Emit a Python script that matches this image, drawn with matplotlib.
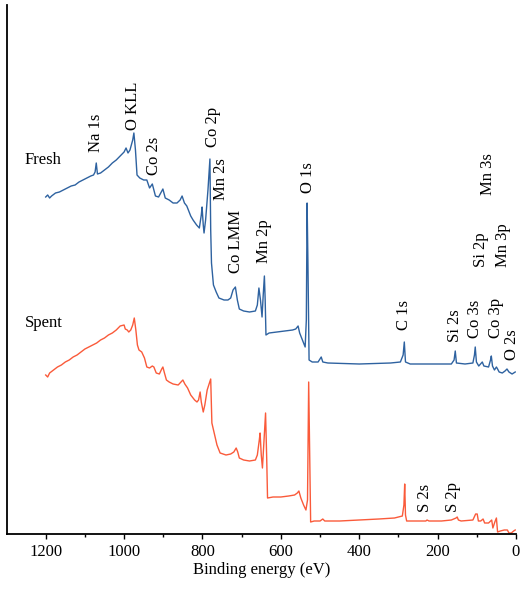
import matplotlib
matplotlib.use('Agg')
import matplotlib.pyplot as plt
import numpy as np

plt.rcParams['font.family'] = ['Liberation Serif', 'DejaVu Serif']
plt.rcParams['font.size'] = 12

# Fresh survey: binding energy (eV) and intensity (a.u.)
fresh_be = [1200, 1195, 1190, 1185, 1175, 1165, 1155, 1145, 1135, 1125, 1115, 1105,
            1095, 1085, 1078, 1074, 1071, 1068, 1060, 1050, 1040, 1030, 1020, 1010,
            1000, 995, 990, 985, 978, 975, 971, 967, 960, 950, 942, 935, 928, 920,
            912, 905, 901, 895, 885, 875, 865, 857, 852, 846, 840, 830, 824, 815,
            808, 803, 801, 798, 796, 792, 786, 781, 779, 777, 772, 765, 758, 745,
            735, 728, 722, 716, 711, 706, 695, 680, 665, 660, 656, 652, 648, 645,
            642, 640, 638, 630, 610, 590, 570, 562, 556, 552, 545, 538, 535, 533,
            531, 528, 520, 505, 497, 493, 480, 400, 320, 295, 288, 285, 282, 270,
            200, 165, 158, 155, 152, 130, 110, 106, 104, 101, 95, 88, 86, 82, 70,
            65, 63, 60, 55, 50, 47, 43, 35, 28, 23, 18, 10, 6, 2]
fresh_px = [197, 195, 198, 196, 193, 192, 190, 188, 186, 185, 182, 180,
            178, 176, 175, 172, 163, 174, 173, 170, 167, 163, 160, 156,
            152, 148, 153, 150, 140, 133, 150, 175, 178, 180, 180, 188, 184, 196,
            197, 192, 189, 198, 200, 203, 203, 200, 196, 203, 206, 216, 220, 225,
            228, 215, 207, 225, 233, 220, 190, 159, 230, 263, 285, 292, 298, 300,
            300, 298, 290, 287, 300, 309, 311, 312, 311, 305, 288, 300, 317, 295,
            276, 300, 335, 333, 332, 331, 330, 329, 326, 333, 340, 347, 320, 203,
            260, 360, 362, 362, 357, 362, 363, 364, 363, 362, 355, 342, 362, 364,
            364, 364, 360, 351, 363, 364, 363, 355, 347, 362, 366, 363, 362, 366, 367,
            360, 356, 366, 370, 367, 369, 372, 373, 371, 369, 372, 374, 373, 372]

# Spent survey
spent_be = [1200, 1195, 1190, 1180, 1170, 1160, 1150, 1140, 1130, 1120, 1110, 1100,
            1090, 1080, 1070, 1060, 1050, 1040, 1030, 1020, 1010, 1000, 997, 992,
            988, 983, 978, 974, 970, 966, 962, 955, 948, 942, 935, 928, 924, 918,
            910, 904, 901, 897, 892, 885, 875, 862, 855, 850, 845, 838, 830, 820,
            814, 810, 806, 803, 798, 794, 788, 779, 776, 770, 763, 755, 740, 728,
            720, 714, 710, 706, 695, 680, 665, 660, 655, 653, 650, 647, 643, 639,
            636, 634, 620, 600, 580, 565, 558, 554, 549, 542, 536, 532, 529, 526,
            524, 515, 500, 493, 488, 450, 400, 350, 310, 300, 290, 286, 284, 282,
            279, 250, 230, 227, 222, 190, 165, 153, 150, 147, 140, 110, 103, 99,
            96, 90, 84, 80, 70, 62, 59, 54, 50, 47, 40, 30, 22, 18, 12, 6, 2]
spent_px = [375, 377, 373, 370, 367, 365, 362, 360, 357, 355, 352, 349,
            347, 345, 343, 340, 338, 335, 333, 330, 326, 325, 329, 330,
            332, 330, 325, 318, 330, 345, 350, 352, 358, 367, 368, 366, 367, 373,
            374, 369, 367, 373, 380, 382, 384, 385, 382, 380, 384, 388, 395, 400,
            402, 400, 392, 402, 412, 405, 390, 379, 423, 433, 445, 453, 455, 454,
            452, 448, 452, 458, 460, 461, 460, 455, 440, 433, 455, 468, 440, 413,
            460, 498, 497, 497, 496, 495, 493, 491, 498, 505, 510, 500, 382, 470,
            522, 521, 521, 519, 521, 521, 520, 519, 518, 517, 516, 505, 484, 515,
            521, 521, 521, 520, 521, 521, 520, 518, 517, 520, 521, 520, 514, 514,
            521, 521, 519, 523, 523, 520, 528, 522, 518, 532, 531, 530, 530, 533, 533, 531, 530]

# peak labels: text, energy, label bottom (a.u.)
peak_names = ['Na 1s', 'O KLL', 'Co 2s', 'Co 2p', 'Mn 2s', 'Co LMM', 'Mn 2p', 'O 1s',
              'C 1s', 'Si 2s', 'Co 3s', 'Co 3p', 'O 2s', 'Si 2p', 'Mn 3p', 'Mn 3s',
              'S 2s', 'S 2p']
peak_be = [1072, 977, 924, 773, 753, 714, 643, 531,
           286, 156, 105, 51, 9, 89, 33, 71,
           232, 161]
peak_y = [382, 404, 359, 387, 334, 261, 271, 341,
          204, 192, 196, 196, 174, 267, 267, 339,
          22, 22]

base = 534
fresh_int = base - np.array(fresh_px)
spent_int = base - np.array(spent_px)

fig = plt.figure(figsize=(5.21, 5.93), dpi=100)
ax = fig.add_axes([7.3 / 521, 59 / 593, (516 - 7.3) / 521, (529) / 593])

ax.plot(fresh_be, fresh_int, color='#2E62A0', lw=1.0)
ax.plot(spent_be, spent_int, color='#FA5A3A', lw=1.0)

ax.set_xlim(1298, 0)
ax.set_ylim(0, 529)

for name, e, y in zip(peak_names, peak_be, peak_y):
    ax.text(e, y, name, rotation=90, ha='center', va='bottom', fontsize=12)

ax.text(1253, 374, 'Fresh', ha='left', va='center', fontsize=12)
ax.text(1253, 211, 'Spent', ha='left', va='center', fontsize=12)

ax.set_xticks(range(0, 1201, 200))
ax.set_xticks(range(100, 1300, 200), minor=True)
ax.tick_params(axis='x', which='major', direction='out', length=3.5, width=1, labelsize=12)
ax.tick_params(axis='x', which='minor', direction='out', length=2.5, width=1)
ax.set_yticks([])
ax.spines['top'].set_visible(False)
ax.spines['right'].set_visible(False)
ax.spines['left'].set_linewidth(1.3)
ax.spines['bottom'].set_linewidth(1.3)
ax.set_xlabel('Binding energy (eV)', fontsize=12, labelpad=2)

fig.savefig('out.png', dpi=100)
